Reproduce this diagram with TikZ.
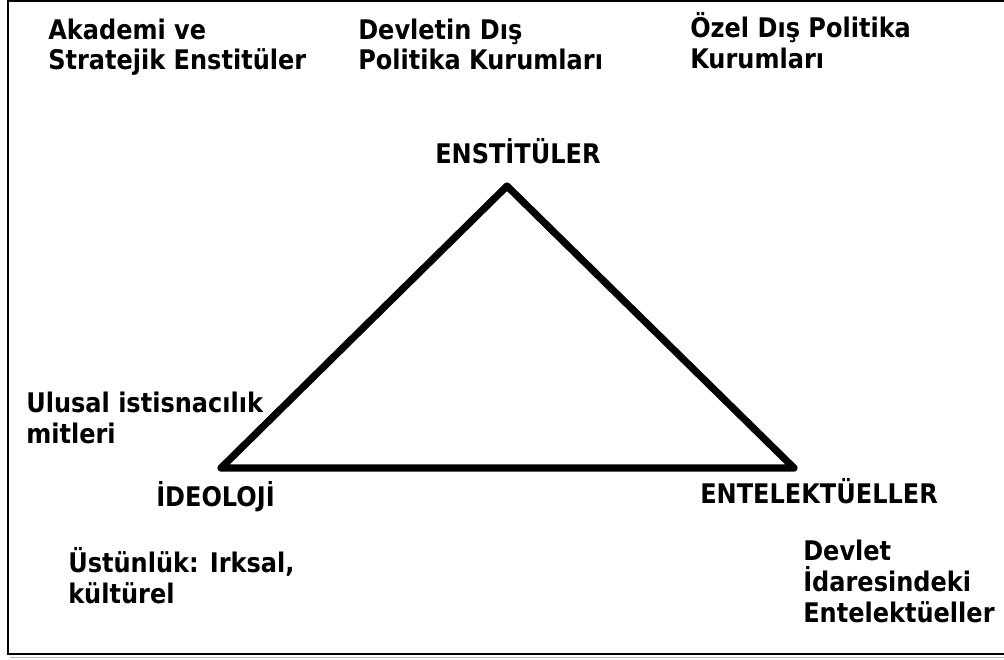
\documentclass[tikz,border=0pt]{standalone}
\usepackage{fontspec}
\newfontfamily\lblfont{DejaVu Sans}[FakeStretch=0.89]
\usetikzlibrary{positioning}
\tikzset{
  lbl/.style={font=\lblfont\bfseries\fontsize{20.25}{23.25}\selectfont,align=left,anchor=base west,inner sep=0pt},
  side/.style={line width=5.4pt,line join=round,line cap=round},
  frame/.style={line width=1.6pt},
  shade/.style={draw=gray!55,line width=1pt},
}

\begin{document}
\begin{tikzpicture}[x=0.75pt,y=-0.75pt]
  \useasboundingbox (0,0) rectangle (1004,660);
  % çerçeve
  \draw[shade] (10,657.5) -- (1010,657.5);
  \draw[frame] (8,1) rectangle (1010,654);
  % üçgen
  \coordinate (tE) at (507,186);
  \coordinate (tI) at (221,468);
  \coordinate (tN) at (794,468);
  \draw[side] (tE) -- (tI) -- (tN) -- cycle;
  % köşeler
  \node[lbl] (enst) at (435,163) {ENSTİTÜLER};
  \node[lbl] (ideo) at (156,506) {İDEOLOJİ};
  \node[lbl] (ente) at (700,503) {ENTELEKTÜELLER};
  % açıklamalar (taban: son satır)
  \node[lbl] (akad) at (48,70) {Akademi ve\\Stratejik Enstitüler};
  \node[lbl] (devd) at (358,70) {Devletin Dış\\Politika Kurumları};
  \node[lbl] (ozel) at (690,69) {Özel Dış Politika\\Kurumları};
  \node[lbl] (ulus) at (26,443) {Ulusal istisnacılık\\mitleri};
  \node[lbl] (ustu) at (68,603) {Üstünlük: Irksal,\\kültürel};
  \node[lbl] (devi) at (803,622) {Devlet\\İdaresindeki\\Entelektüeller};
\end{tikzpicture}
\end{document}
